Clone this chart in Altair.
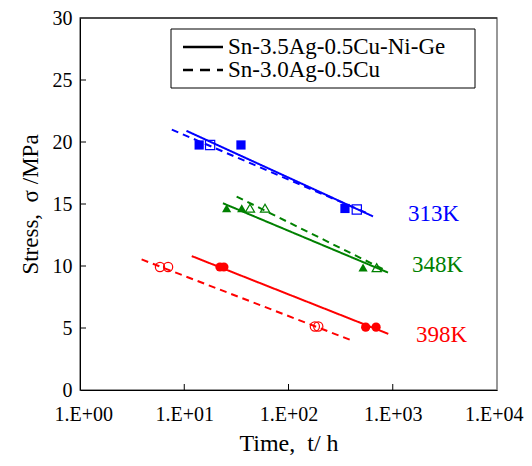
import altair as alt
import pandas as pd

temps = ["313K", "348K", "398K"]
colors = ["#0000FF", "#008000", "#FF0000"]
shapes = ["square", "triangle-up", "circle"]
alloys = ["Sn-3.5Ag-0.5Cu-Ni-Ge", "Sn-3.0Ag-0.5Cu"]

# measured points: Ni-Ge alloy (filled), SAC (open)
ni_time = [13.9, 35.0, 348.0, 25.5, 35.6, 519.0, 22.0, 24.0, 550.0, 692.0]
ni_stress = [19.76, 19.76, 14.64, 14.66, 14.66, 9.87, 9.92, 9.92, 5.07, 5.07]
ni_temp = ["313K", "313K", "313K", "348K", "348K", "348K", "398K", "398K", "398K", "398K"]

sac_time = [17.7, 452.0, 42.7, 59.5, 702.0, 5.85, 7.0, 179.0, 193.0]
sac_stress = [19.76, 14.56, 14.66, 14.66, 9.87, 9.92, 9.92, 5.12, 5.12]
sac_temp = ["313K", "313K", "348K", "348K", "348K", "398K", "398K", "398K", "398K"]

# fitted lines (start, end)
line_time = [10.5, 647.0, 7.6, 605.0, 23.5, 900.0, 31.8, 875.0, 11.8, 906.0, 3.9, 389.0]
line_stress = [20.9, 14.0, 21.0, 14.16, 15.06, 9.47, 15.6, 9.6, 10.8, 4.53, 10.53, 4.05]
line_temp = ["313K"] * 4 + ["348K"] * 4 + ["398K"] * 4
line_alloy = [alloys[0], alloys[0], alloys[1], alloys[1]] * 3

label_time = [1400.0, 1530.0, 1670.0]
label_stress = [14.16, 10.08, 4.4]

x_ticks = [1, 10, 100, 1000, 10000]
y_ticks = [0, 5, 10, 15, 20, 25, 30]

W, H = 417, 372
FONT = "Liberation Serif"
DASH = [7, 5]

xs = alt.Scale(type="log", domain=[1, 10000])
ys = alt.Scale(domain=[0, 30])
cs = alt.Scale(domain=temps, range=colors)
ss = alt.Scale(domain=temps, range=shapes)

ni_df = pd.DataFrame({"time": ni_time, "stress": ni_stress, "temp": ni_temp})
sac_df = pd.DataFrame({"time": sac_time, "stress": sac_stress, "temp": sac_temp})
line_df = pd.DataFrame({"time": line_time, "stress": line_stress, "temp": line_temp,
                        "alloy": line_alloy, "grp": [t + a for t, a in zip(line_temp, line_alloy)]})
lab_df = pd.DataFrame({"time": label_time, "stress": label_stress, "temp": temps})
xt_df = pd.DataFrame({"v": x_ticks[1:-1]})
yt_df = pd.DataFrame({"v": y_ticks[1:-1]})

x_axis = alt.Axis(values=x_ticks, labelExpr="'1.E+0' + round(log(datum.value)/LN10)",
                  title="Time,\u00a0 t/ h", grid=False, ticks=False, labelFont=FONT, labelFontSize=20,
                  titleFont=FONT, titleFontSize=24, titleFontWeight="normal", labelPadding=14,
                  titlePadding=7, domainColor="black", labelColor="black", titleColor="black",
                  labelFlush=True, labelFlushOffset=26, labelOverlap=False)
y_axis = alt.Axis(values=y_ticks, title="Stress,\u00a0 σ /MPa", grid=False, ticks=False,
                  labelFont=FONT, labelFontSize=20, titleFont=FONT, titleFontSize=23,
                  titleFontWeight="normal", labelPadding=8, titlePadding=10,
                  domainColor="black", labelColor="black", titleColor="black")

lines = alt.Chart(line_df).mark_line(strokeWidth=2).encode(
    x=alt.X("time:Q", scale=xs, axis=x_axis),
    y=alt.Y("stress:Q", scale=ys, axis=y_axis),
    color=alt.Color("temp:N", scale=cs, legend=None),
    strokeDash=alt.StrokeDash("alloy:N", scale=alt.Scale(domain=alloys, range=[[1, 0], DASH]),
                              legend=None),
    detail="grp:N",
)

filled = alt.Chart(ni_df).mark_point(filled=True, size=85, opacity=1).encode(
    x=alt.X("time:Q", scale=xs), y=alt.Y("stress:Q", scale=ys),
    color=alt.Color("temp:N", scale=cs, legend=None),
    shape=alt.Shape("temp:N", scale=ss, legend=None),
)
opened = alt.Chart(sac_df).mark_point(filled=False, size=85, strokeWidth=1.2, opacity=1).encode(
    x=alt.X("time:Q", scale=xs), y=alt.Y("stress:Q", scale=ys),
    color=alt.Color("temp:N", scale=cs, legend=None),
    shape=alt.Shape("temp:N", scale=ss, legend=None),
)
labels = alt.Chart(lab_df).mark_text(font=FONT, fontSize=23, align="left", baseline="middle").encode(
    x=alt.X("time:Q", scale=xs), y=alt.Y("stress:Q", scale=ys),
    text="temp:N", color=alt.Color("temp:N", scale=cs, legend=None),
)
xt = alt.Chart(xt_df).mark_rule(color="black", strokeWidth=1).encode(
    x=alt.X("v:Q", scale=xs), y=alt.value(H), y2=alt.value(H - 6))
yt = alt.Chart(yt_df).mark_rule(color="black", strokeWidth=1).encode(
    y=alt.Y("v:Q", scale=ys), x=alt.value(0), x2=alt.value(6))
top = alt.Chart(pd.DataFrame({"v": [y_ticks[-1]]})).mark_rule(color="black", strokeWidth=1).encode(
    y=alt.Y("v:Q", scale=ys), x=alt.value(0), x2=alt.value(W))

# custom legend box
leg_df0 = pd.DataFrame({"alloy": alloys[:1]})
leg_df1 = pd.DataFrame({"alloy": alloys[1:]})
leg_box = alt.Chart(leg_df0).mark_rect(fill="white", stroke="black", strokeWidth=1).encode(
    x=alt.value(91), x2=alt.value(395), y=alt.value(11), y2=alt.value(70))
leg_l0 = alt.Chart(leg_df0).mark_rule(color="black", strokeWidth=2.5).encode(
    x=alt.value(103), x2=alt.value(143), y=alt.value(29))
leg_l1 = alt.Chart(leg_df1).mark_rule(color="black", strokeWidth=2.5, strokeDash=[10, 7]).encode(
    x=alt.value(103), x2=alt.value(143), y=alt.value(52))
leg_t0 = alt.Chart(leg_df0).mark_text(font=FONT, fontSize=23, align="left", baseline="middle",
                                      color="black").encode(
    x=alt.value(148), y=alt.value(29), text="alloy:N")
leg_t1 = alt.Chart(leg_df1).mark_text(font=FONT, fontSize=23, align="left", baseline="middle",
                                      color="black").encode(
    x=alt.value(148), y=alt.value(52), text="alloy:N")

chart = alt.layer(lines, opened, filled, labels, xt, yt, top,
                  leg_box, leg_l0, leg_l1, leg_t0, leg_t1).properties(
    width=W, height=H, background="white",
    autosize=alt.AutoSizeParams(type="none"),
    padding={"left": 72, "top": 10, "right": 27, "bottom": 68},
).configure_view(stroke="#777777", strokeWidth=1.5)

chart.save("out.html", embed_options={"renderer": "svg", "actions": False})
